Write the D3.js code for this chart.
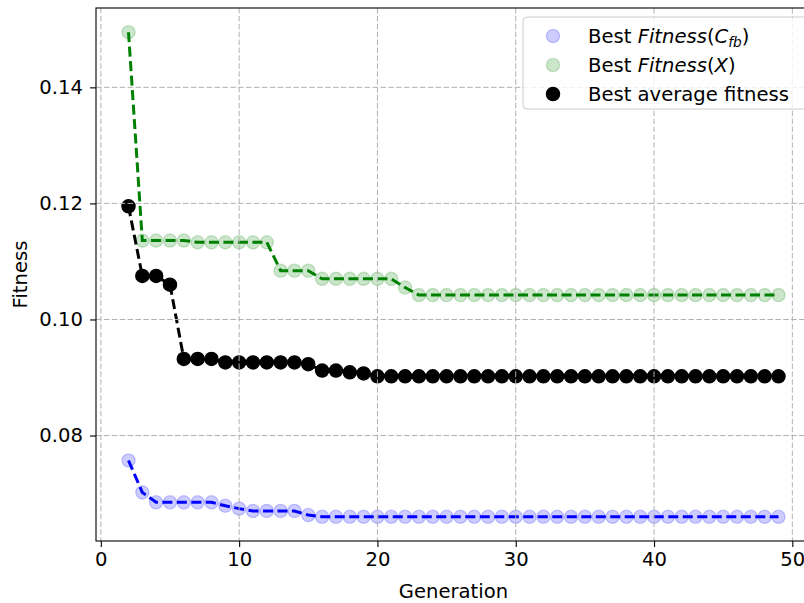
<!DOCTYPE html>
<html>
<head>
<meta charset="utf-8">
<script src="https://cdn.jsdelivr.net/npm/d3@7"></script>
<style>
  html, body { margin: 0; padding: 0; background: #fff; }
  svg { display: block; font-family: "DejaVu Sans", sans-serif; }
</style>
</head>
<body>
<svg id="chart" width="804" height="603"></svg>
<script>
// Generations along the x axis
const generations = [2, 3, 4, 5, 6, 7, 8, 9, 10, 11, 12, 13, 14, 15, 16, 17, 18, 19, 20,
  21, 22, 23, 24, 25, 26, 27, 28, 29, 30, 31, 32, 33, 34, 35, 36, 37, 38, 39, 40,
  41, 42, 43, 44, 45, 46, 47, 48, 49];

// Best Fitness(C_fb) per generation
const bestFitnessCfb = [0.0757, 0.0702, 0.0685, 0.0685, 0.0685, 0.0685, 0.0685, 0.0679,
  0.0674, 0.0670, 0.0670, 0.0670, 0.0670, 0.0663, 0.0660, 0.0660, 0.0660, 0.0660, 0.0660,
  0.0660, 0.0660, 0.0660, 0.0660, 0.0660, 0.0660, 0.0660, 0.0660, 0.0660, 0.0660, 0.0660,
  0.0660, 0.0660, 0.0660, 0.0660, 0.0660, 0.0660, 0.0660, 0.0660, 0.0660, 0.0660, 0.0660,
  0.0660, 0.0660, 0.0660, 0.0660, 0.0660, 0.0660, 0.0660];

// Best Fitness(X) per generation
const bestFitnessX = [0.1495, 0.1136, 0.1136, 0.1136, 0.1136, 0.1133, 0.1133, 0.1133,
  0.1133, 0.1133, 0.1133, 0.1084, 0.1084, 0.1084, 0.1070, 0.1070, 0.1070, 0.1070, 0.1070,
  0.1070, 0.1055, 0.1042, 0.1042, 0.1042, 0.1042, 0.1042, 0.1042, 0.1042, 0.1042, 0.1042,
  0.1042, 0.1042, 0.1042, 0.1042, 0.1042, 0.1042, 0.1042, 0.1042, 0.1042, 0.1042, 0.1042,
  0.1042, 0.1042, 0.1042, 0.1042, 0.1042, 0.1042, 0.1042];

// Best average fitness per generation
const bestAverage = [0.1195, 0.1075, 0.1075, 0.1060, 0.0932, 0.0932, 0.0932, 0.0926,
  0.0926, 0.0926, 0.0926, 0.0926, 0.0926, 0.0923, 0.0912, 0.0912, 0.0909, 0.0907, 0.0902,
  0.0902, 0.0902, 0.0902, 0.0902, 0.0902, 0.0902, 0.0902, 0.0902, 0.0902, 0.0902, 0.0902,
  0.0902, 0.0902, 0.0902, 0.0902, 0.0902, 0.0902, 0.0902, 0.0902, 0.0902, 0.0902, 0.0902,
  0.0902, 0.0902, 0.0902, 0.0902, 0.0902, 0.0902, 0.0902];

const xTicks = [0, 10, 20, 30, 40, 50];
const yTicks = [0.08, 0.10, 0.12, 0.14];

const svg = d3.select("#chart");
const plot = { left: 96, top: 8, right: 811, bottom: 541 };
const fontSize = 19.6;

// Axis domains padded by 5% of the data range on each side
const allY = bestFitnessCfb.concat(bestFitnessX, bestAverage);
const xMin = d3.min(generations), xMax = d3.max(generations);
const yMin = d3.min(allY), yMax = d3.max(allY);
const xPad = (xMax - xMin) * 0.05, yPad = (yMax - yMin) * 0.05;

const x = d3.scaleLinear().domain([xMin - xPad, xMax + xPad]).range([plot.left, plot.right]);
const y = d3.scaleLinear().domain([yMin - yPad, yMax + yPad]).range([plot.bottom, plot.top]);

// Series: markers with a dashed connecting line
const series = [
  { values: bestFitnessCfb, color: "#0000ff", faded: true },
  { values: bestFitnessX, color: "#008000", faded: true },
  { values: bestAverage, color: "#000000", faded: false }
];

const line = d3.line().x(d => x(d[0])).y(d => y(d[1]));
series.forEach(s => {
  const pts = generations.map((g, i) => [g, s.values[i]]);
  const g = svg.append("g");
  g.selectAll("circle").data(pts).join("circle")
    .attr("cx", d => x(d[0])).attr("cy", d => y(d[1])).attr("r", 6.6)
    .attr("fill", s.color).attr("fill-opacity", s.faded ? 0.2 : 1)
    .attr("stroke", s.color).attr("stroke-opacity", s.faded ? 0.2 : 1).attr("stroke-width", 1.3);
  g.append("path").datum(pts).attr("d", line)
    .attr("fill", "none").attr("stroke", s.color).attr("stroke-width", 3)
    .attr("stroke-dasharray", "10,4.5");
});

// Grid, drawn above the data
const grid = svg.append("g").attr("stroke", "#b0b0b0").attr("stroke-width", 1)
  .attr("stroke-dasharray", "5.5,2.4");
grid.selectAll("line.gx").data(xTicks).join("line")
  .attr("x1", d => x(d)).attr("x2", d => x(d))
  .attr("y1", plot.top).attr("y2", plot.bottom);
grid.selectAll("line.gy").data(yTicks).join("line")
  .attr("y1", d => y(d)).attr("y2", d => y(d))
  .attr("x1", plot.left).attr("x2", plot.right);

// Axes
const xAxis = svg.append("g").attr("transform", `translate(0,${plot.bottom})`)
  .call(d3.axisBottom(x).tickValues(xTicks).tickFormat(d3.format("d")).tickSizeOuter(0).tickSize(6).tickPadding(5));
const yAxis = svg.append("g").attr("transform", `translate(${plot.left},0)`)
  .call(d3.axisLeft(y).tickValues(yTicks).tickFormat(d3.format(".2f")).tickSizeOuter(0).tickSize(6).tickPadding(7));
[xAxis, yAxis].forEach(a => {
  a.select(".domain").remove();
  a.selectAll("line").attr("stroke", "#000").attr("stroke-width", 1.1);
  a.selectAll("text").attr("font-size", fontSize).attr("fill", "#000")
    .attr("font-family", "DejaVu Sans, sans-serif");
});

// Spines
svg.append("g").attr("stroke", "#000").attr("stroke-width", 1.1).attr("fill", "none")
  .append("rect")
  .attr("x", plot.left).attr("y", plot.top)
  .attr("width", plot.right - plot.left).attr("height", plot.bottom - plot.top);

// Axis labels
svg.append("text").attr("x", (plot.left + plot.right) / 2).attr("y", 598)
  .attr("text-anchor", "middle").attr("font-size", fontSize).text("Generation");
svg.append("text").attr("transform", `translate(27,${(plot.top + plot.bottom) / 2}) rotate(-90)`)
  .attr("text-anchor", "middle").attr("font-size", fontSize).text("Fitness");

// Legend
const legend = svg.append("g");
legend.append("rect").attr("x", 523).attr("y", 17).attr("width", 292).attr("height", 92)
  .attr("rx", 4).attr("fill", "#fff").attr("fill-opacity", 0.8)
  .attr("stroke", "#cccccc").attr("stroke-width", 1);

const rowsY = [36, 65, 94];
series.forEach((s, i) => {
  legend.append("circle").attr("cx", 553).attr("cy", rowsY[i]).attr("r", 6.6)
    .attr("fill", s.color).attr("fill-opacity", s.faded ? 0.2 : 1)
    .attr("stroke", s.color).attr("stroke-opacity", s.faded ? 0.2 : 1).attr("stroke-width", 1.3);
});

const t0 = legend.append("text").attr("x", 588).attr("y", rowsY[0] + 7).attr("font-size", fontSize);
t0.append("tspan").text("Best ");
t0.append("tspan").attr("font-style", "italic").text("Fitness");
t0.append("tspan").text("(");
t0.append("tspan").attr("font-style", "italic").text("C");
t0.append("tspan").attr("font-style", "italic").attr("font-size", fontSize * 0.7).attr("dy", 4).text("fb");
t0.append("tspan").attr("dy", -4).text(")");

const t1 = legend.append("text").attr("x", 588).attr("y", rowsY[1] + 7).attr("font-size", fontSize);
t1.append("tspan").text("Best ");
t1.append("tspan").attr("font-style", "italic").text("Fitness");
t1.append("tspan").text("(");
t1.append("tspan").attr("font-style", "italic").text("X");
t1.append("tspan").text(")");

legend.append("text").attr("x", 588).attr("y", rowsY[2] + 7).attr("font-size", fontSize)
  .text("Best average fitness");
</script>
</body>
</html>
